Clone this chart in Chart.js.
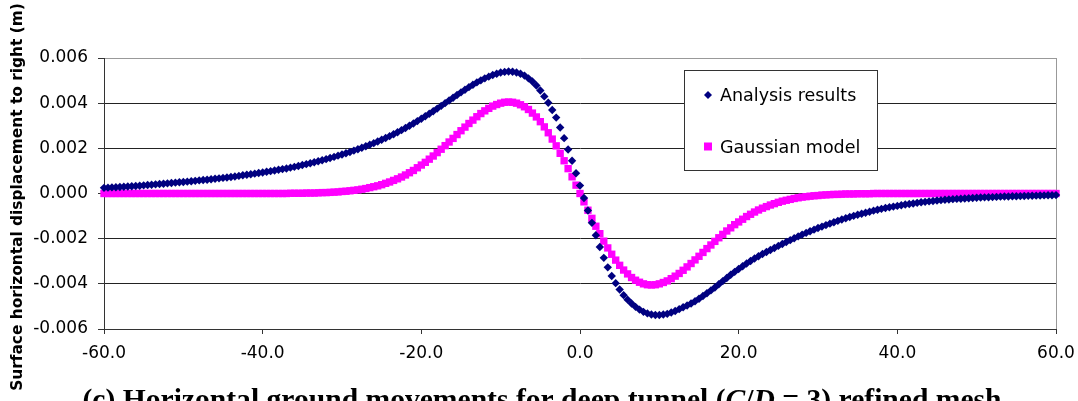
<!DOCTYPE html>
<html>
<head>
<meta charset="utf-8">
<script src="https://cdn.jsdelivr.net/npm/chart.js@4.4.1/dist/chart.umd.min.js"></script>
<style>
  html, body { margin: 0; padding: 0; background: #fff; overflow: hidden; }
  #wrap { position: relative; width: 1078px; height: 401px; }
</style>
</head>
<body>
<div id="wrap"><canvas id="chart" width="1078" height="401"></canvas></div>
<script>
// distance from tunnel centreline (m)
const distance = [
  -60,-59.5,-59,-58.5,-58,-57.5,-57,-56.5,-56,-55.5,
  -55,-54.5,-54,-53.5,-53,-52.5,-52,-51.5,-51,-50.5,
  -50,-49.5,-49,-48.5,-48,-47.5,-47,-46.5,-46,-45.5,
  -45,-44.5,-44,-43.5,-43,-42.5,-42,-41.5,-41,-40.5,
  -40,-39.5,-39,-38.5,-38,-37.5,-37,-36.5,-36,-35.5,
  -35,-34.5,-34,-33.5,-33,-32.5,-32,-31.5,-31,-30.5,
  -30,-29.5,-29,-28.5,-28,-27.5,-27,-26.5,-26,-25.5,
  -25,-24.5,-24,-23.5,-23,-22.5,-22,-21.5,-21,-20.5,
  -20,-19.5,-19,-18.5,-18,-17.5,-17,-16.5,-16,-15.5,
  -15,-14.5,-14,-13.5,-13,-12.5,-12,-11.5,-11,-10.5,
  -10,-9.5,-9,-8.5,-8,-7.5,-7,-6.5,-6,-5.5,
  -5,-4.5,-4,-3.5,-3,-2.5,-2,-1.5,-1,-0.5,
  0,
  0.5,1,1.5,2,2.5,3,3.5,4,4.5,5,
  5.5,6,6.5,7,7.5,8,8.5,9,9.5,10,
  10.5,11,11.5,12,12.5,13,13.5,14,14.5,15,
  15.5,16,16.5,17,17.5,18,18.5,19,19.5,20,
  20.5,21,21.5,22,22.5,23,23.5,24,24.5,25,
  25.5,26,26.5,27,27.5,28,28.5,29,29.5,30,
  30.5,31,31.5,32,32.5,33,33.5,34,34.5,35,
  35.5,36,36.5,37,37.5,38,38.5,39,39.5,40,
  40.5,41,41.5,42,42.5,43,43.5,44,44.5,45,
  45.5,46,46.5,47,47.5,48,48.5,49,49.5,50,
  50.5,51,51.5,52,52.5,53,53.5,54,54.5,55,
  55.5,56,56.5,57,57.5,58,58.5,59,59.5,60
];

// surface horizontal displacement (m), analysis
const analysisResults = [
  0.00025,0.00026,0.00027,0.00028,0.00029,0.00030,0.00031,0.00032,0.00033,0.000345,
  0.00036,0.000375,0.00039,0.000405,0.00042,0.000435,0.00045,0.000465,0.00048,0.000495,
  0.00051,0.000525,0.00054,0.00056,0.00058,0.000595,0.00061,0.00063,0.00065,0.00067,
  0.00069,0.00071,0.00073,0.000755,0.00078,0.000805,0.00083,0.000855,0.00088,0.000905,
  0.00093,0.00096,0.00099,0.00102,0.00105,0.00108,0.00111,0.001145,0.00118,0.00122,
  0.00126,0.0013,0.00134,0.001385,0.00143,0.001475,0.00152,0.00157,0.00162,0.001675,
  0.00173,0.001785,0.00184,0.0019,0.00196,0.002025,0.00209,0.00216,0.00223,0.002305,
  0.00238,0.00246,0.00254,0.002625,0.00271,0.002805,0.0029,0.003,0.0031,0.003205,
  0.00331,0.00342,0.00353,0.003645,0.00376,0.00388,0.004,0.00412,0.00424,0.00436,
  0.00448,0.004595,0.00471,0.004815,0.00492,0.00501,0.0051,0.005175,0.00525,0.005305,
  0.00536,0.005385,0.0054,0.00539,0.00536,0.0053,0.00522,0.0051,0.00496,0.00478,
  0.00456,0.0043,0.00402,0.0037,0.00336,0.00292,0.00245,0.00195,0.00145,0.0009,
  0.00035,
  -0.0002,-0.00075,-0.0013,-0.00185,-0.00237,-0.00285,-0.00327,-0.00365,-0.00397,-0.00425,
  -0.0045,-0.0047,-0.00487,-0.00502,-0.00514,-0.00524,-0.00531,-0.00536,-0.00538,-0.00538,
  -0.00536,-0.00533,-0.00527,-0.0052,-0.00512,-0.00504,-0.00496,-0.00487,-0.00477,-0.00466,
  -0.00454,-0.00442,-0.00429,-0.00416,-0.00402,-0.00388,-0.00374,-0.0036,-0.00347,-0.00334,
  -0.00322,-0.0031,-0.00299,-0.00288,-0.00278,-0.00268,-0.00259,-0.0025,-0.00241,-0.00232,
  -0.002235,-0.00215,-0.002065,-0.00198,-0.0019,-0.00182,-0.001745,-0.00167,-0.0016,-0.00153,
  -0.001465,-0.0014,-0.001335,-0.00127,-0.00121,-0.00115,-0.001095,-0.00104,-0.00099,-0.00094,
  -0.000895,-0.00085,-0.000805,-0.00076,-0.00072,-0.00068,-0.000645,-0.00061,-0.00058,-0.00055,
  -0.00052,-0.00049,-0.000465,-0.00044,-0.000415,-0.00039,-0.00037,-0.00035,-0.00033,-0.00031,
  -0.000295,-0.00028,-0.000265,-0.00025,-0.00024,-0.00023,-0.00022,-0.00021,-0.0002,-0.00019,
  -0.00018,-0.00017,-0.000165,-0.00016,-0.00015,-0.00014,-0.000135,-0.00013,-0.000125,-0.00012,
  -0.000115,-0.00011,-0.000105,-0.0001,-0.000095,-0.00009,-0.000085,-0.00008,-0.000075,-0.00007
];

// surface horizontal displacement (m), gaussian model
const gaussianModel = [
  0,0,0,0,0,0,0,0,0,0,
  0,0,0,0,0,0,0,0,0,0,
  0,0,0,0,0,0,0,0,0,0,
  0,0,0,0,0,0,0,0,0,0,
  0,0,0,0,0,0,0,0.00001,0.00001,0.00001,
  0.00001,0.00002,0.00002,0.00002,0.00003,0.00004,0.00004,0.00005,0.00006,0.00007,
  0.00009,0.0001,0.00012,0.00014,0.00016,0.00019,0.00022,0.00026,0.0003,0.00034,
  0.00039,0.00045,0.00051,0.00058,0.00065,0.00073,0.00082,0.00092,0.00102,0.00114,
  0.00126,0.00138,0.00152,0.00166,0.00181,0.00196,0.00212,0.00228,0.00244,0.00261,
  0.00278,0.00294,0.0031,0.00325,0.0034,0.00354,0.00366,0.00377,0.00387,0.00394,
  0.004,0.00404,0.00405,0.00404,0.004,0.00393,0.00384,0.00372,0.00356,0.00339,
  0.00318,0.00295,0.00269,0.00241,0.00211,0.00178,0.00145,0.0011,0.00074,0.00037,
  0,
  -0.00037,-0.00074,-0.0011,-0.00145,-0.00178,-0.00211,-0.00241,-0.00269,-0.00295,-0.00318,
  -0.00339,-0.00356,-0.00372,-0.00384,-0.00393,-0.004,-0.00404,-0.00405,-0.00404,-0.004,
  -0.00394,-0.00387,-0.00377,-0.00366,-0.00354,-0.0034,-0.00325,-0.0031,-0.00294,-0.00278,
  -0.00261,-0.00244,-0.00228,-0.00212,-0.00196,-0.00181,-0.00166,-0.00152,-0.00138,-0.00126,
  -0.00114,-0.00102,-0.00092,-0.00082,-0.00073,-0.00065,-0.00058,-0.00051,-0.00045,-0.00039,
  -0.00034,-0.0003,-0.00026,-0.00022,-0.00019,-0.00016,-0.00014,-0.00012,-0.0001,-0.00009,
  -0.00007,-0.00006,-0.00005,-0.00004,-0.00004,-0.00003,-0.00002,-0.00002,-0.00002,-0.00001,
  -0.00001,-0.00001,-0.00001,0,0,0,0,0,0,0,
  0,0,0,0,0,0,0,0,0,0,
  0,0,0,0,0,0,0,0,0,0,
  0,0,0,0,0,0,0,0,0,0,
  0,0,0,0,0,0,0,0,0,0
];

const xTickValues = [-60, -40, -20, 0, 20, 40, 60];
const yTickValues = [-0.006, -0.004, -0.002, 0, 0.002, 0.004, 0.006];
const seriesNames = ['Analysis results', 'Gaussian model'];
const seriesColors = ['#000080', '#FF00FF'];
const yAxisTitle = 'Surface horizontal displacement to right (m)';
// [text, italic]
const caption = [
  ['(c) Horizontal ground movements for deep tunnel (', false],
  ['C', true], ['/', false], ['D', true],
  [' = 3) refined mesh', false]
];

const tickFont = { family: '"DejaVu Sans"', size: 17 };

function toPoints(values) {
  return distance.map((x, i) => ({ x: x, y: values[i] }));
}

// y title, caption and the boxed legend
const decor = {
  id: 'decor',
  afterDraw(chart) {
    const ctx = chart.ctx;

    ctx.save();
    ctx.fillStyle = '#000';
    ctx.font = 'bold 15.4px "DejaVu Sans"';
    ctx.textAlign = 'center';
    ctx.textBaseline = 'middle';
    ctx.translate(18, 197);
    ctx.rotate(-Math.PI / 2);
    ctx.fillText(yAxisTitle, 0, 0);
    ctx.restore();

    ctx.save();
    ctx.fillStyle = '#000';
    ctx.textBaseline = 'alphabetic';
    ctx.textAlign = 'left';
    const fontOf = it => (it ? 'italic ' : '') + 'bold 29.6px "Liberation Serif"';
    let total = 0;
    caption.forEach(p => { ctx.font = fontOf(p[1]); total += ctx.measureText(p[0]).width; });
    let cx = 542 - total / 2;
    caption.forEach(p => {
      ctx.font = fontOf(p[1]);
      ctx.fillText(p[0], cx, 409);
      cx += ctx.measureText(p[0]).width;
    });
    ctx.restore();

    // legend box
    ctx.save();
    ctx.fillStyle = '#fff';
    ctx.fillRect(684.5, 70.5, 193, 100);
    ctx.strokeStyle = '#333';
    ctx.lineWidth = 1;
    ctx.strokeRect(684.5, 70.5, 193, 100);
    const rows = [
      { style: 'rectRot', radius: 4, y: 95, base: 101 },
      { style: 'rect', radius: 5.66, y: 146.5, base: 152.5 }
    ];
    rows.forEach((r, i) => {
      ctx.fillStyle = seriesColors[i];
      Chart.helpers.drawPoint(ctx, { pointStyle: r.style, radius: r.radius, borderWidth: 0, rotation: 0 }, 708, r.y);
      ctx.fillStyle = '#000';
      ctx.font = '17.5px "DejaVu Sans"';
      ctx.textBaseline = 'alphabetic';
      ctx.textAlign = 'left';
      ctx.fillText(seriesNames[i], 720, r.base);
    });
    ctx.restore();
  }
};

new Chart(document.getElementById('chart'), {
  type: 'scatter',
  data: {
    datasets: [
      {
        label: seriesNames[0],
        data: toPoints(analysisResults),
        pointStyle: 'rectRot',
        pointRadius: 4.2,
        pointBorderWidth: 0,
        pointBackgroundColor: seriesColors[0],
        showLine: false,
        clip: false
      },
      {
        label: seriesNames[1],
        data: toPoints(gaussianModel),
        pointStyle: 'rect',
        pointRadius: 5.2,
        pointBorderWidth: 0,
        pointBackgroundColor: seriesColors[1],
        showLine: false,
        clip: false
      }
    ]
  },
  options: {
    responsive: false,
    animation: false,
    events: [],
    layout: { padding: { left: 0, top: 58, right: 22, bottom: 32 } },
    plugins: {
      legend: { display: false },
      tooltip: { enabled: false }
    },
    scales: {
      x: {
        type: 'linear',
        min: -60,
        max: 60,
        afterBuildTicks: s => { s.ticks = xTickValues.map(v => ({ value: v })); },
        afterFit: s => { s.height = 40; s.paddingLeft = 0; s.paddingRight = 0; },
        ticks: {
          font: tickFont,
          color: '#000',
          padding: 9,
          maxRotation: 0,
          autoSkip: false,
          callback: v => v.toFixed(1)
        },
        grid: {
          color: c => (c.tick && c.tick.value === 60 ? '#999' : 'rgba(0,0,0,0)'),
          tickColor: '#333',
          tickLength: 5,
          lineWidth: 1
        },
        border: { color: '#333', width: 1 }
      },
      y: {
        min: -0.006,
        max: 0.006,
        afterBuildTicks: s => { s.ticks = yTickValues.map(v => ({ value: v })); },
        afterFit: s => { s.width = 104; s.paddingTop = 0; s.paddingBottom = 0; },
        ticks: {
          font: tickFont,
          color: '#000',
          padding: 10,
          autoSkip: false,
          callback: v => (Math.abs(v) < 1e-12 ? 0 : v).toFixed(3)
        },
        grid: {
          color: c => (c.tick && c.tick.value === 0.006 ? '#999' : '#222'),
          tickColor: '#333',
          tickLength: 6,
          lineWidth: 1
        },
        border: { color: '#333', width: 1 }
      }
    }
  },
  plugins: [decor]
});
</script>
</body>
</html>
